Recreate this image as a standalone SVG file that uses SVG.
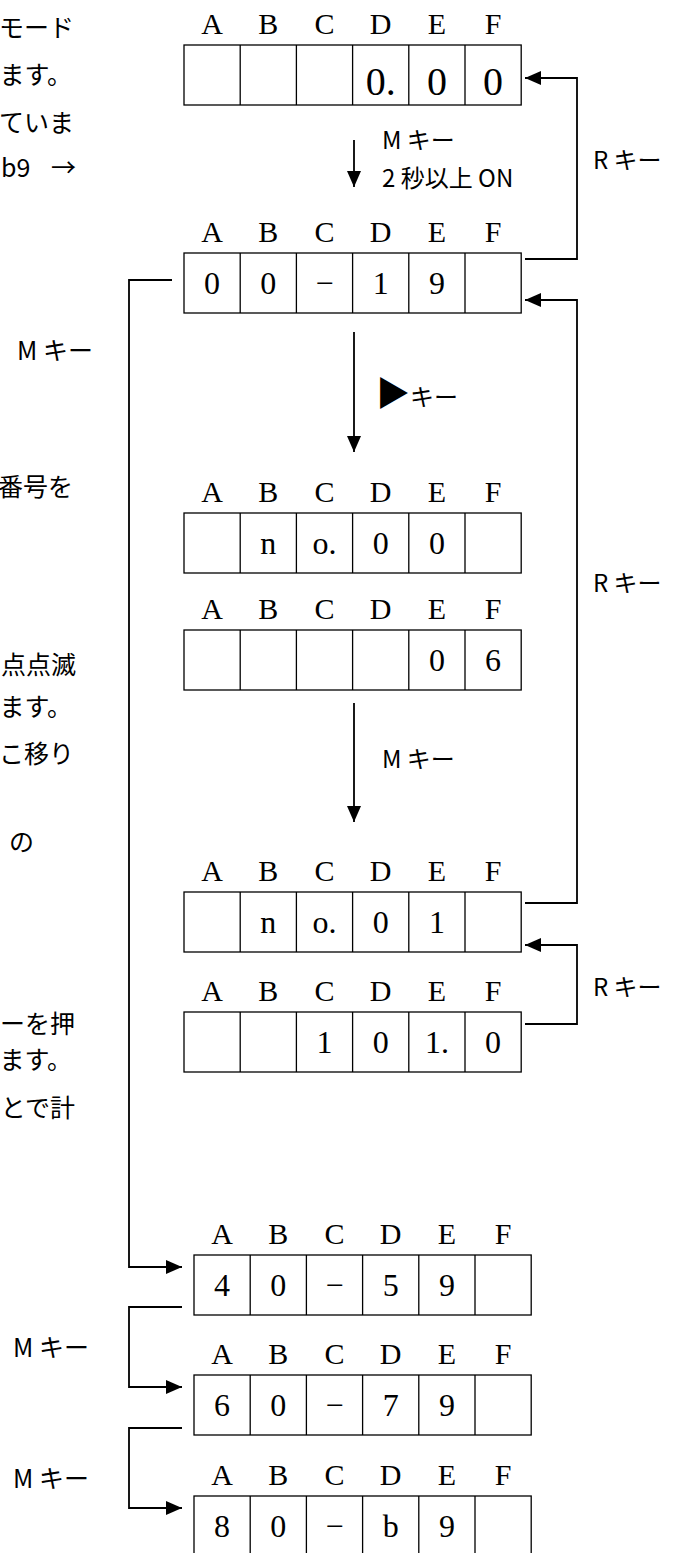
<svg xmlns="http://www.w3.org/2000/svg" width="678" height="1553" viewBox="0 0 678 1553">
<style>
.bx{fill:none;stroke:#000;stroke-width:1.3}
.lbl{font-family:"Liberation Serif",serif;font-size:30px;text-anchor:middle;fill:#000}
.dig{font-family:"Liberation Serif",serif;font-size:32px;text-anchor:middle;fill:#000}
.big{font-size:40px}
.jp{font-family:"Noto Sans CJK JP","Noto Sans",sans-serif;font-size:24px;fill:#000}
.side{font-size:25px}
.end{text-anchor:end}
.ln{fill:none;stroke:#000;stroke-width:1.8}
</style>
<defs>
<marker id="ah" markerUnits="userSpaceOnUse" markerWidth="16" markerHeight="14" refX="16" refY="7" orient="auto">
<path d="M0,0 L16,7 L0,14 z" fill="#000"/>
</marker>
</defs>
<rect width="678" height="1553" fill="#fff"/>

<g id="sidetext" class="jp side">
<text x="74" y="37" class="end">モード</text>
<text x="72" y="84" class="end">ます。</text>
<text x="74" y="132" class="end">ていま</text>
<text x="1" y="177">b9</text>
<text x="76" y="177" class="end">→</text>
<text x="17" y="360">M キー</text>
<text x="73" y="496" class="end">番号を</text>
<text x="76" y="674" class="end">点点滅</text>
<text x="72" y="716" class="end">ます。</text>
<text x="74" y="763" class="end">こ移り</text>
<text x="34" y="851" class="end">の</text>
<text x="75" y="1033" class="end">ーを押</text>
<text x="72" y="1069" class="end">ます。</text>
<text x="75" y="1117" class="end">とで計</text>
</g>

<g id="connectors">
<path class="ln" d="M525,259 H577 V78 H525" marker-end="url(#ah)"/>
<path class="ln" d="M525,903 H577 V300 H525" marker-end="url(#ah)"/>
<path class="ln" d="M525,1024 H577 V945 H525" marker-end="url(#ah)"/>
<path class="ln" d="M172,280 H129 V1267 H182" marker-end="url(#ah)"/>
<path class="ln" d="M182,1307 H129 V1387 H182" marker-end="url(#ah)"/>
<path class="ln" d="M182,1428 H129 V1508 H182" marker-end="url(#ah)"/>
<path class="ln" d="M354,140 V187" marker-end="url(#ah)"/>
<path class="ln" d="M354,332 V452" marker-end="url(#ah)"/>
<path class="ln" d="M354,703 V822" marker-end="url(#ah)"/>
</g>

<g id="edge-labels" class="jp">
<text x="382" y="149">M キー</text>
<text x="382" y="187">2 秒以上 ON</text>
<text x="593" y="169">R キー</text>
<text x="376" y="406"><tspan font-size="34">▶</tspan>キー</text>
<text x="593" y="592">R キー</text>
<text x="382" y="768">M キー</text>
<text x="593" y="996">R キー</text>
<text x="13" y="1357" class="side">M キー</text>
<text x="13" y="1488" class="side">M キー</text>
</g>

<g id="box1">
<g class="lbl"><text x="212.1" y="34">A</text><text x="268.3" y="34">B</text><text x="324.5" y="34">C</text><text x="380.7" y="34">D</text><text x="436.9" y="34">E</text><text x="493.1" y="34">F</text></g>
<rect class="bx" x="184" y="45" width="337.2" height="60"/>
<path class="bx" d="M240.2,45V105M296.4,45V105M352.6,45V105M408.8,45V105M465,45V105"/>
<g class="dig big"><text x="380.7" y="95">0.</text><text x="436.9" y="95">0</text><text x="493.1" y="95">0</text></g>
</g>

<g id="box2">
<g class="lbl"><text x="212.1" y="242">A</text><text x="268.3" y="242">B</text><text x="324.5" y="242">C</text><text x="380.7" y="242">D</text><text x="436.9" y="242">E</text><text x="493.1" y="242">F</text></g>
<rect class="bx" x="184" y="253" width="337.2" height="60"/>
<path class="bx" d="M240.2,253V313M296.4,253V313M352.6,253V313M408.8,253V313M465,253V313"/>
<g class="dig"><text x="212.1" y="294">0</text><text x="268.3" y="294">0</text><text x="324.5" y="294">−</text><text x="380.7" y="294">1</text><text x="436.9" y="294">9</text></g>
</g>

<g id="box3">
<g class="lbl"><text x="212.1" y="502">A</text><text x="268.3" y="502">B</text><text x="324.5" y="502">C</text><text x="380.7" y="502">D</text><text x="436.9" y="502">E</text><text x="493.1" y="502">F</text></g>
<rect class="bx" x="184" y="513" width="337.2" height="60"/>
<path class="bx" d="M240.2,513V573M296.4,513V573M352.6,513V573M408.8,513V573M465,513V573"/>
<g class="dig"><text x="268.3" y="554">n</text><text x="324.5" y="554">o.</text><text x="380.7" y="554">0</text><text x="436.9" y="554">0</text></g>
</g>

<g id="box4">
<g class="lbl"><text x="212.1" y="619">A</text><text x="268.3" y="619">B</text><text x="324.5" y="619">C</text><text x="380.7" y="619">D</text><text x="436.9" y="619">E</text><text x="493.1" y="619">F</text></g>
<rect class="bx" x="184" y="630" width="337.2" height="60"/>
<path class="bx" d="M240.2,630V690M296.4,630V690M352.6,630V690M408.8,630V690M465,630V690"/>
<g class="dig"><text x="436.9" y="671">0</text><text x="493.1" y="671">6</text></g>
</g>

<g id="box5">
<g class="lbl"><text x="212.1" y="881">A</text><text x="268.3" y="881">B</text><text x="324.5" y="881">C</text><text x="380.7" y="881">D</text><text x="436.9" y="881">E</text><text x="493.1" y="881">F</text></g>
<rect class="bx" x="184" y="892" width="337.2" height="60"/>
<path class="bx" d="M240.2,892V952M296.4,892V952M352.6,892V952M408.8,892V952M465,892V952"/>
<g class="dig"><text x="268.3" y="933">n</text><text x="324.5" y="933">o.</text><text x="380.7" y="933">0</text><text x="436.9" y="933">1</text></g>
</g>

<g id="box6">
<g class="lbl"><text x="212.1" y="1001">A</text><text x="268.3" y="1001">B</text><text x="324.5" y="1001">C</text><text x="380.7" y="1001">D</text><text x="436.9" y="1001">E</text><text x="493.1" y="1001">F</text></g>
<rect class="bx" x="184" y="1012" width="337.2" height="60"/>
<path class="bx" d="M240.2,1012V1072M296.4,1012V1072M352.6,1012V1072M408.8,1012V1072M465,1012V1072"/>
<g class="dig"><text x="324.5" y="1053">1</text><text x="380.7" y="1053">0</text><text x="436.9" y="1053">1.</text><text x="493.1" y="1053">0</text></g>
</g>

<g id="box7">
<g class="lbl"><text x="222.1" y="1244">A</text><text x="278.3" y="1244">B</text><text x="334.5" y="1244">C</text><text x="390.7" y="1244">D</text><text x="446.9" y="1244">E</text><text x="503.1" y="1244">F</text></g>
<rect class="bx" x="194" y="1255" width="337.2" height="60"/>
<path class="bx" d="M250.2,1255V1315M306.4,1255V1315M362.6,1255V1315M418.8,1255V1315M475,1255V1315"/>
<g class="dig"><text x="222.1" y="1296">4</text><text x="278.3" y="1296">0</text><text x="334.5" y="1296">−</text><text x="390.7" y="1296">5</text><text x="446.9" y="1296">9</text></g>
</g>

<g id="box8">
<g class="lbl"><text x="222.1" y="1364">A</text><text x="278.3" y="1364">B</text><text x="334.5" y="1364">C</text><text x="390.7" y="1364">D</text><text x="446.9" y="1364">E</text><text x="503.1" y="1364">F</text></g>
<rect class="bx" x="194" y="1375" width="337.2" height="60"/>
<path class="bx" d="M250.2,1375V1435M306.4,1375V1435M362.6,1375V1435M418.8,1375V1435M475,1375V1435"/>
<g class="dig"><text x="222.1" y="1416">6</text><text x="278.3" y="1416">0</text><text x="334.5" y="1416">−</text><text x="390.7" y="1416">7</text><text x="446.9" y="1416">9</text></g>
</g>

<g id="box9">
<g class="lbl"><text x="222.1" y="1485">A</text><text x="278.3" y="1485">B</text><text x="334.5" y="1485">C</text><text x="390.7" y="1485">D</text><text x="446.9" y="1485">E</text><text x="503.1" y="1485">F</text></g>
<rect class="bx" x="194" y="1496" width="337.2" height="60"/>
<path class="bx" d="M250.2,1496V1556M306.4,1496V1556M362.6,1496V1556M418.8,1496V1556M475,1496V1556"/>
<g class="dig"><text x="222.1" y="1537">8</text><text x="278.3" y="1537">0</text><text x="334.5" y="1537">−</text><text x="390.7" y="1537">b</text><text x="446.9" y="1537">9</text></g>
</g>
</svg>
